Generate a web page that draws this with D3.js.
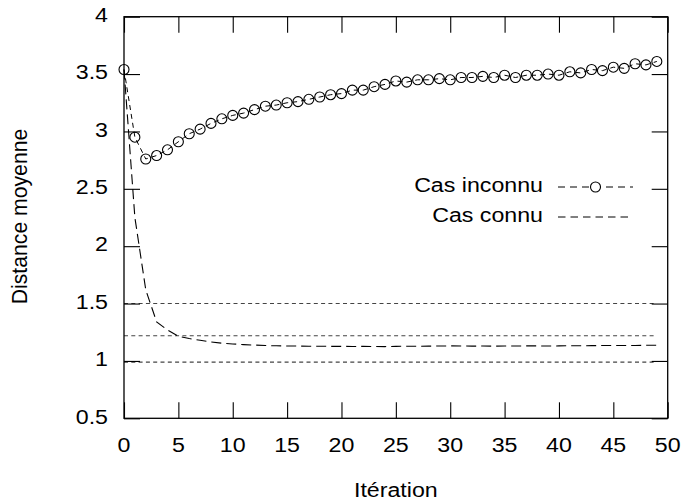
<!DOCTYPE html>
<html><head><meta charset="utf-8">
<script src="https://cdn.jsdelivr.net/npm/d3@7"></script>
<style>body{margin:0;background:#fff}svg{display:block}text{font-family:"Liberation Sans",Arial,Helvetica,sans-serif}</style>
</head><body><svg id="c" width="686" height="502"></svg>
<script>
const iterations = d3.range(0, 50);
const casInconnu = [3.54,2.95,2.76,2.79,2.84,2.91,2.98,3.02,3.07,3.11,3.14,3.16,3.19,3.22,3.23,3.25,3.26,3.28,3.30,3.32,3.33,3.36,3.36,3.39,3.41,3.44,3.43,3.45,3.45,3.46,3.45,3.47,3.47,3.48,3.47,3.49,3.47,3.49,3.49,3.50,3.49,3.52,3.51,3.54,3.53,3.56,3.55,3.59,3.58,3.61];
const casConnu = [3.54,2.25,1.62,1.34,1.27,1.215,1.195,1.18,1.165,1.155,1.148,1.142,1.138,1.134,1.132,1.13,1.13,1.128,1.128,1.127,1.127,1.126,1.127,1.126,1.125,1.127,1.128,1.128,1.129,1.13,1.131,1.13,1.129,1.13,1.129,1.13,1.13,1.131,1.131,1.13,1.131,1.132,1.132,1.133,1.134,1.134,1.134,1.135,1.136,1.137];
const refLines = [1.5, 1.22, 0.99];
const xTicks = d3.range(0, 51, 5);
const yTicks = [0.5,1,1.5,2,2.5,3,3.5,4];
const legendLabels = ["Cas inconnu", "Cas connu"];

const svg = d3.select("#c");
const L = 124, R = 667.7, T = 16.7, B = 418.3;
const x = d3.scaleLinear().domain([0, 50]).range([L, R]);
const y = d3.scaleLinear().domain([0.5, 4]).range([B, T]);
const fs = 20, sx = 1.16;

// horizontal stretched text helper
function htext(px, py, str, anchor) {
  svg.append("text").attr("transform", `translate(${px},${py}) scale(${sx},1)`)
    .attr("text-anchor", anchor).attr("dominant-baseline", "middle")
    .attr("font-size", fs).attr("fill", "#000").text(str);
}

// reference lines
svg.append("g").selectAll("line").data(refLines).join("line")
  .attr("x1", x(0)).attr("x2", x(49)).attr("y1", d => y(d)).attr("y2", d => y(d))
  .attr("stroke", "#444").attr("stroke-width", 1.1).attr("stroke-dasharray", "4,3.3");

// Cas connu curve
const line = d3.line().x((d, i) => x(iterations[i])).y(d => y(d));
svg.append("path").datum(casConnu).attr("d", line)
  .attr("fill", "none").attr("stroke", "#000").attr("stroke-width", 1.1).attr("stroke-dasharray", "10,5");

// Cas inconnu
svg.append("path").datum(casInconnu).attr("d", line)
  .attr("fill", "none").attr("stroke", "#000").attr("stroke-width", 1).attr("stroke-dasharray", "5,4");
svg.append("g").selectAll("circle").data(casInconnu).join("circle")
  .attr("cx", (d, i) => x(iterations[i])).attr("cy", d => y(d)).attr("r", 5)
  .attr("fill", "none").attr("stroke", "#000").attr("stroke-width", 1.1);

// frame & ticks
svg.append("rect").attr("x", L).attr("y", T).attr("width", R - L).attr("height", B - T)
  .attr("fill", "none").attr("stroke", "#000").attr("stroke-width", 1.3);
const tl = 16;
const gxb = svg.append("g").attr("transform", `translate(0,${B})`)
  .call(d3.axisBottom(x).tickValues(xTicks).tickSizeInner(-tl).tickSizeOuter(0).tickFormat(""));
const gxt = svg.append("g").attr("transform", `translate(0,${T})`)
  .call(d3.axisTop(x).tickValues(xTicks).tickSizeInner(-tl).tickSizeOuter(0).tickFormat(""));
const gyl = svg.append("g").attr("transform", `translate(${L},0)`)
  .call(d3.axisLeft(y).tickValues(yTicks).tickSizeInner(-tl).tickSizeOuter(0).tickFormat(""));
const gyr = svg.append("g").attr("transform", `translate(${R},0)`)
  .call(d3.axisRight(y).tickValues(yTicks).tickSizeInner(-tl).tickSizeOuter(0).tickFormat(""));
[gxb, gxt, gyl, gyr].forEach(g => {
  g.select(".domain").remove();
  g.selectAll(".tick line").attr("stroke", "#000").attr("stroke-width", 1.1);
});
// tick labels
const fy = d3.format("~g");
xTicks.forEach(t => htext(x(t), 447, String(t), "middle"));
yTicks.forEach(t => htext(108, y(t), fy(t), "end"));

// axis titles
htext((L + R) / 2 + 0, 492, "Itération", "middle");
svg.append("text").attr("transform", `translate(21,${(T + B) / 2 - 1}) rotate(-90)`).attr("text-anchor", "middle")
  .attr("dominant-baseline", "middle").attr("font-size", 21.2).text("Distance moyenne");

// legend
const lx1 = 558, lx2 = 633, ly = [187, 217];
legendLabels.forEach((lab, i) => {
  htext(543, ly[i], lab, "end");
  svg.append("line").attr("x1", lx1).attr("x2", lx2).attr("y1", ly[i]).attr("y2", ly[i])
    .attr("stroke", "#000").attr("stroke-width", 1).attr("stroke-dasharray", i === 0 ? "7,5" : "7.5,5");
});
svg.append("circle").attr("cx", (lx1 + lx2) / 2).attr("cy", ly[0]).attr("r", 5)
  .attr("fill", "#fff").attr("stroke", "#000").attr("stroke-width", 1.1);
</script></body></html>
